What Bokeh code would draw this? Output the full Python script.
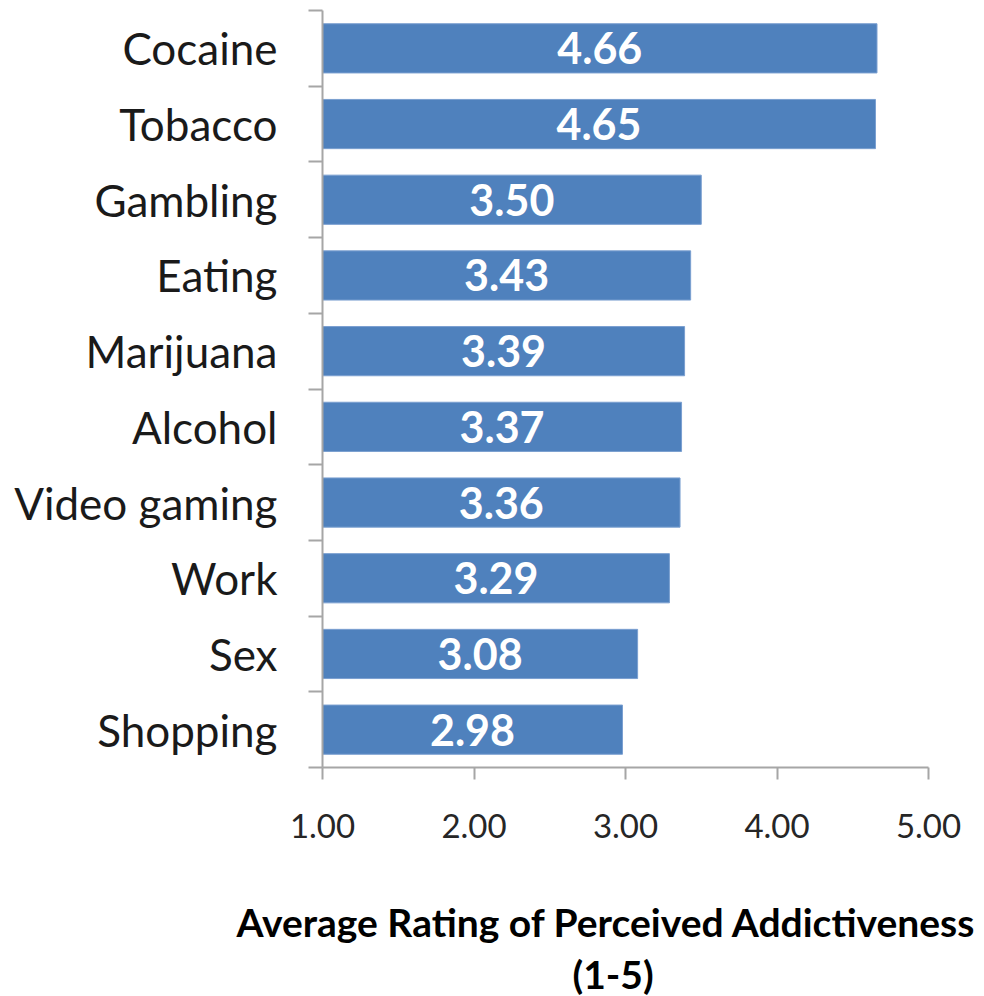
from bokeh.plotting import figure
from bokeh.models import FixedTicker, ColumnDataSource, Range1d, Title
from bokeh.core.properties import value
from bokeh.embed import file_html
from bokeh.resources import INLINE

categories = ["Cocaine", "Tobacco", "Gambling", "Eating", "Marijuana", "Alcohol",
              "Video gaming", "Work", "Sex", "Shopping"]
ratings = [4.66, 4.65, 3.50, 3.43, 3.39, 3.37, 3.36, 3.29, 3.08, 2.98]
x_ticks = [1, 2, 3, 4, 5]
x_tick_labels = ["1.00", "2.00", "3.00", "4.00", "5.00"]
x_title_lines = ["Average Rating of Perceived Addictiveness", "(1-5)"]

n = len(categories)
centers = [n - 1 - i + 0.5 for i in range(n)]
mids = [(1 + v) / 2 for v in ratings]
labels = [f"{v:.2f}" for v in ratings]

src = ColumnDataSource(dict(y=centers, right=ratings, mid=mids, lab=labels, cat=categories))

FONT = "Lato"
AX = "#a6a6a6"

p = figure(width=984, height=996, output_backend="svg", toolbar_location=None,
           x_range=Range1d(1, 5), y_range=Range1d(0, n),
           min_border_left=322, min_border_right=56, min_border_top=10,
           min_border_bottom=229)
p.background_fill_color = "white"
p.border_fill_color = "white"
p.outline_line_color = None
p.xgrid.visible = False
p.ygrid.visible = False

p.hbar(y="y", left=1, right="right", height=0.65, source=src,
       fill_color="#4F81BD", line_color="#7A9FD0", line_width=1)
p.text(x="mid", y="y", text="lab", source=src, text_color="white",
       text_font=value(FONT), text_font_style="bold", text_font_size="43px",
       text_align="center", text_baseline="middle")

# x axis
xa = p.xaxis[0]
xa.ticker = FixedTicker(ticks=x_ticks, minor_ticks=[])
xa.major_label_overrides = {t: l for t, l in zip(x_ticks, x_tick_labels)}
xa.axis_line_color = AX
xa.axis_line_width = 2
xa.major_tick_line_color = AX
xa.major_tick_line_width = 2
xa.major_tick_out = 12
xa.major_tick_in = 0
xa.minor_tick_line_color = None
xa.major_label_standoff = 34
xa.major_label_text_font = FONT
xa.major_label_text_font_size = "33px"
xa.major_label_text_color = "#262626"

# spacer between tick labels and axis title
spacer = Title(text=" ", align="left", standoff=50, text_font_size="1px")
p.add_layout(spacer, "below")

# axis title (two lines, slightly left of the frame centre as in the original)
t1 = Title(text=x_title_lines[0], align="left", offset=-86, standoff=7,
           text_font=FONT, text_font_style="bold", text_font_size="39px",
           text_color="black")
t2 = Title(text=x_title_lines[1], align="left", offset=250, standoff=0,
           text_font=FONT, text_font_style="bold", text_font_size="39px",
           text_color="black")
p.add_layout(t1, "below")
p.add_layout(t2, "below")

# y axis
ya = p.yaxis[0]
ya.ticker = FixedTicker(ticks=centers, minor_ticks=list(range(0, n + 1)))
ya.major_label_overrides = {c: cat for c, cat in zip(centers, categories)}
ya.axis_line_color = AX
ya.axis_line_width = 2
ya.major_tick_line_color = None
ya.major_tick_out = 0
ya.major_tick_in = 0
ya.minor_tick_line_color = AX
ya.minor_tick_line_width = 2
ya.minor_tick_out = 14
ya.minor_tick_in = 0
ya.major_label_standoff = 31
ya.major_label_text_font = FONT
ya.major_label_text_font_size = "44px"
ya.major_label_text_color = "#1a1a1a"

open("out.html", "w").write(file_html(p, INLINE))
